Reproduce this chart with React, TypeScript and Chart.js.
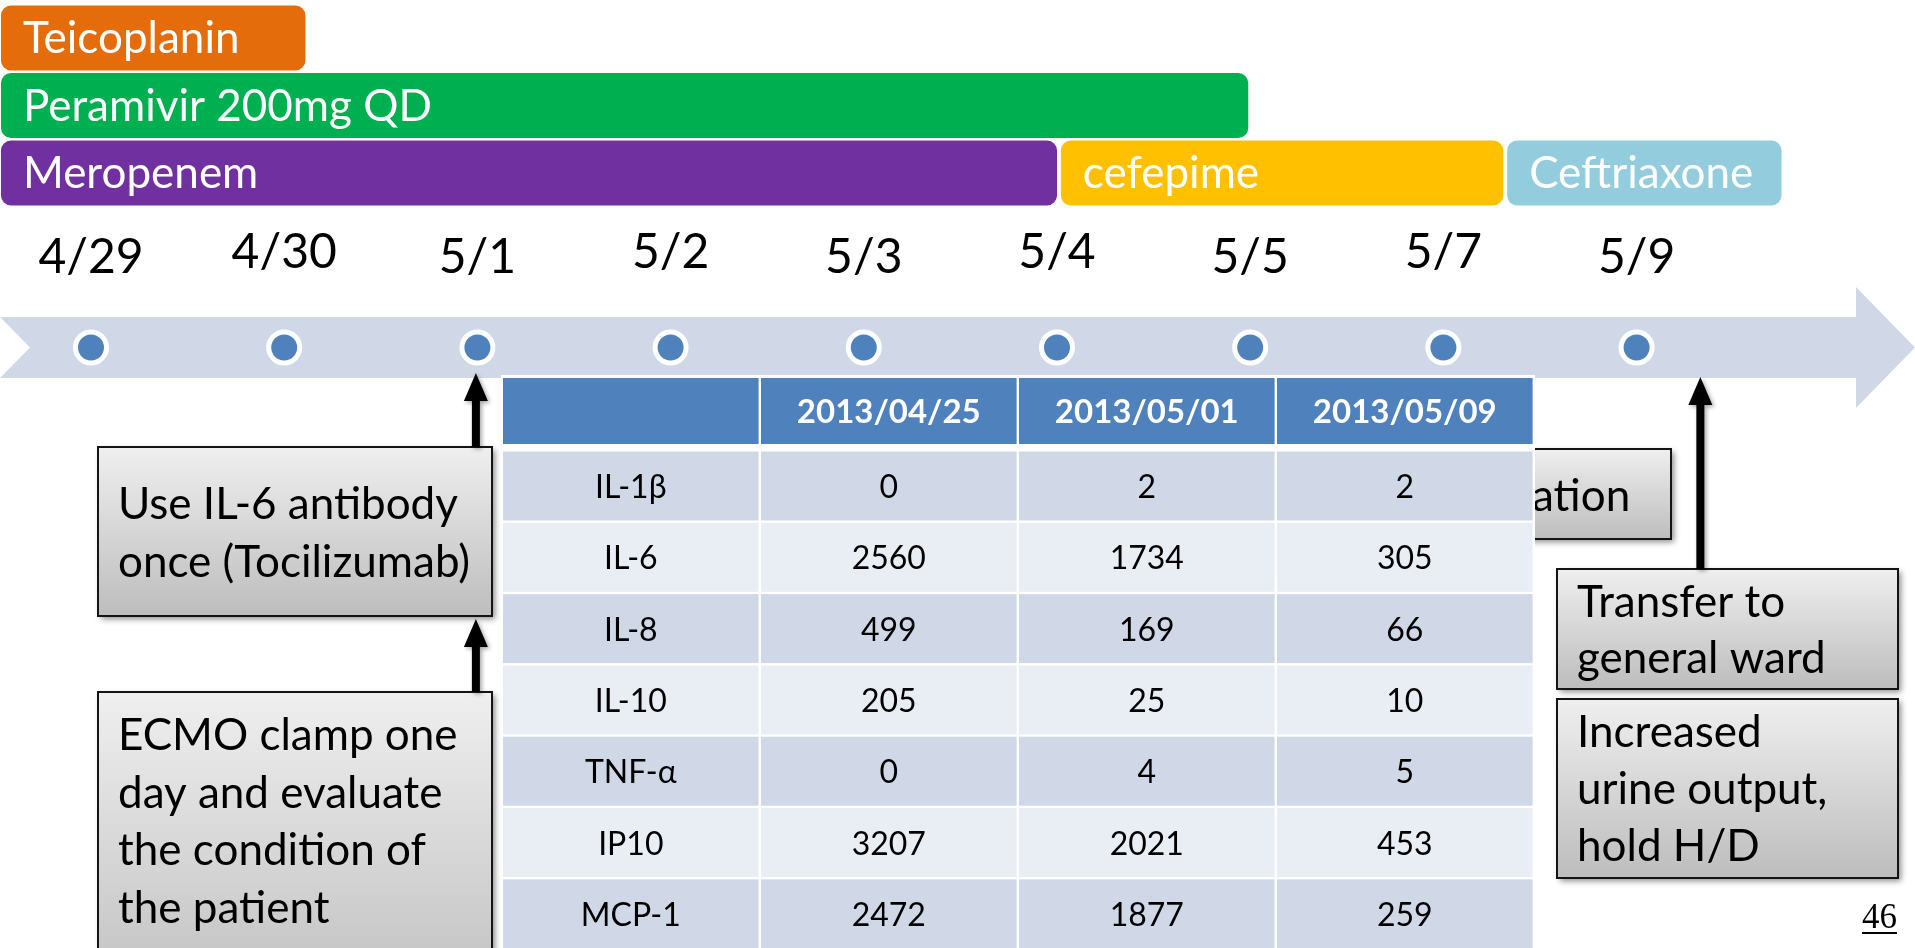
import React, { useEffect, useRef } from 'react';
import { Chart, registerables } from 'chart.js';

Chart.register(...registerables);

// ---------------- data ----------------
const dateLabels = ['4/29', '4/30', '5/1', '5/2', '5/3', '5/4', '5/5', '5/7', '5/9'];

const drugNames = ['Teicoplanin', 'Peramivir 200mg QD', 'Meropenem', 'cefepime', 'Ceftriaxone'];
const drugLanes = [0, 1, 2, 2, 2];
const drugStarts = [-0.466, -0.466, -0.466, 5.02, 7.33];
const drugEnds = [1.11, 5.99, 5.0, 7.31, 8.75];
const drugColors = ['#E46C0A', '#00B050', '#7030A0', '#FFC000', '#93CDDD'];

const cytokineNames = ['IL-1β', 'IL-6', 'IL-8', 'IL-10', 'TNF-α', 'IP10', 'MCP-1'];
const sampleDates = ['2013/04/25', '2013/05/01', '2013/05/09'];
const cytokinesApr25 = [0, 2560, 499, 205, 0, 3207, 2472];
const cytokinesMay01 = [2, 1734, 169, 25, 4, 2021, 1877];
const cytokinesMay09 = [2, 305, 66, 10, 5, 453, 259];

const noteTocilizumab = ['Use IL-6 antibody', 'once (Tocilizumab)'];
const noteEcmo = ['ECMO clamp one', 'day and evaluate', 'the condition of', 'the patient'];
const noteHidden = ['ation'];
const noteTransfer = ['Transfer to', 'general ward'];
const noteUrine = ['Increased', 'urine output,', 'hold H/D'];
const pageNumber = '46';

// ---------------- layout / style ----------------
const W = 1915;
const H = 948;
const FONT = 'Lato, "Noto Sans", "DejaVu Sans", sans-serif';
const X_MIN = -0.471;
const X_MAX = 9.441;
const LANE_PX = 67.5;
const Y_MIN = -0.563;
const Y_MAX = Y_MIN + H / LANE_PX;
const TIMELINE_LANE = 4.585;
const BAND_HALF = 30.5;

const noteBoxes = [
  { lines: noteTocilizumab, x: 98, y: 447, w: 394, h: 169, first: 72, lh: 58 },
  { lines: noteEcmo, x: 98, y: 692, w: 394, h: 330, first: 58, lh: 57.7 },
  { lines: noteHidden, x: 1300, y: 449, w: 371, h: 90, first: 62, lh: 58, tx: 1532 },
  { lines: noteTransfer, x: 1557, y: 569, w: 341, h: 120, first: 48, lh: 56 },
  { lines: noteUrine, x: 1557, y: 699, w: 341, h: 179, first: 48, lh: 57 },
];

const arrows = [
  { at: 2, dx: -1.5, tip: 373, tail: 447 },
  { at: 2, dx: -1.5, tip: 619, tail: 692 },
  { at: 8.33, dx: 0, tip: 377, tail: 569 },
];

const table = {
  x: 503,
  colW: 258,
  gap: 2.4,
  headerY: 378,
  headerH: 66,
  rowY: 451.5,
  rowPitch: 71.3,
  rowH: 69,
};

function drawNote(ctx: CanvasRenderingContext2D, b: any) {
  ctx.save();
  ctx.shadowColor = 'rgba(0,0,0,0.45)';
  ctx.shadowBlur = 6;
  ctx.shadowOffsetX = 3;
  ctx.shadowOffsetY = 3;
  const g = ctx.createLinearGradient(0, b.y, 0, b.y + b.h);
  g.addColorStop(0, '#EFEFEF');
  g.addColorStop(1, '#BDBDBD');
  ctx.fillStyle = g;
  ctx.fillRect(b.x, b.y, b.w, b.h);
  ctx.restore();
  ctx.save();
  ctx.strokeStyle = '#141414';
  ctx.lineWidth = 2;
  ctx.strokeRect(b.x, b.y, b.w, b.h);
  ctx.fillStyle = '#000';
  ctx.font = `400 44px ${FONT}`;
  ctx.textAlign = 'left';
  ctx.textBaseline = 'alphabetic';
  const tx = b.tx !== undefined ? b.tx : b.x + 20;
  b.lines.forEach((ln: string, i: number) => {
    ctx.fillText(ln, tx, b.y + b.first + i * b.lh);
  });
  ctx.restore();
}

function drawArrow(ctx: CanvasRenderingContext2D, x: number, tip: number, tail: number) {
  ctx.save();
  ctx.shadowColor = 'rgba(0,0,0,0.35)';
  ctx.shadowBlur = 4;
  ctx.shadowOffsetX = 2;
  ctx.shadowOffsetY = 2;
  ctx.fillStyle = '#000';
  const headH = 28;
  ctx.beginPath();
  ctx.moveTo(x, tip);
  ctx.lineTo(x + 12, tip + headH);
  ctx.lineTo(x + 4, tip + headH);
  ctx.lineTo(x + 4, tail);
  ctx.lineTo(x - 4, tail);
  ctx.lineTo(x - 4, tip + headH);
  ctx.lineTo(x - 12, tip + headH);
  ctx.closePath();
  ctx.fill();
  ctx.restore();
}

function drawTable(ctx: CanvasRenderingContext2D) {
  const t = table;
  const cols = [cytokineNames, cytokinesApr25, cytokinesMay01, cytokinesMay09];
  const right = t.x + 4 * t.colW;
  ctx.save();
  ctx.fillStyle = '#FFFFFF';
  ctx.fillRect(t.x - 2, t.headerY - 3, right - t.x + 2, H);
  ctx.textBaseline = 'alphabetic';
  // header
  for (let c = 0; c < 4; c++) {
    const cx = t.x + c * t.colW;
    ctx.fillStyle = '#4F81BD';
    ctx.fillRect(cx, t.headerY, t.colW - t.gap, t.headerH);
    if (c > 0) {
      ctx.fillStyle = '#FFFFFF';
      ctx.font = `700 33px ${FONT}`;
      ctx.textAlign = 'center';
      ctx.fillText(sampleDates[c - 1], cx + (t.colW - t.gap) / 2, t.headerY + t.headerH / 2 + 12);
    }
  }
  // body
  for (let r = 0; r < cytokineNames.length; r++) {
    const ry = t.rowY + r * t.rowPitch;
    for (let c = 0; c < 4; c++) {
      const cx = t.x + c * t.colW;
      ctx.fillStyle = r % 2 === 0 ? '#D0D8E8' : '#E9EDF4';
      ctx.fillRect(cx, ry, t.colW - t.gap, t.rowH);
      ctx.fillStyle = '#000000';
      ctx.font = `400 32px ${FONT}`;
      ctx.textAlign = 'center';
      ctx.fillText(String(cols[c][r]), cx + (t.colW - t.gap) / 2, ry + t.rowH / 2 + 12);
    }
  }
  ctx.restore();
}

const slidePlugin = {
  id: 'slide',
  beforeDatasetsDraw(chart: any) {
    const ctx: CanvasRenderingContext2D = chart.ctx;
    const xs = chart.scales.x;
    const ys = chart.scales.y;
    const cy = ys.getPixelForValue(TIMELINE_LANE);
    const top = cy - BAND_HALF;
    const bot = cy + BAND_HALF;
    const right = chart.width;
    const headStart = right - 59;
    ctx.save();
    ctx.fillStyle = '#D0D8E8';
    ctx.beginPath();
    ctx.moveTo(0, top);
    ctx.lineTo(headStart, top);
    ctx.lineTo(headStart, cy - 60.5);
    ctx.lineTo(right, cy);
    ctx.lineTo(headStart, cy + 60.5);
    ctx.lineTo(headStart, bot);
    ctx.lineTo(0, bot);
    ctx.lineTo(30, cy);
    ctx.closePath();
    ctx.fill();
    // date labels
    ctx.fillStyle = '#000';
    ctx.font = `400 48px ${FONT}`;
    ctx.textAlign = 'center';
    ctx.textBaseline = 'alphabetic';
    dateLabels.forEach((d, i) => {
      const x = xs.getPixelForValue(i);
      const base = i % 2 === 0 ? cy - 74.5 : cy - 79.5;
      ctx.fillText(d, x, base);
    });
    ctx.restore();
  },
  afterDatasetsDraw(chart: any) {
    const ctx: CanvasRenderingContext2D = chart.ctx;
    const xs = chart.scales.x;
    // bar labels
    const meta = chart.getDatasetMeta(0);
    ctx.save();
    ctx.fillStyle = '#FFFFFF';
    ctx.font = `400 44px ${FONT}`;
    ctx.textAlign = 'left';
    ctx.textBaseline = 'alphabetic';
    meta.data.forEach((el: any, i: number) => {
      const left = Math.max(0, Math.min(el.x, el.base));
      ctx.fillText(drugNames[i], left + 22, el.y + 15);
    });
    ctx.restore();

    // note partly hidden under the table
    drawNote(ctx, noteBoxes[2]);
    drawTable(ctx);
    drawNote(ctx, noteBoxes[0]);
    drawNote(ctx, noteBoxes[1]);
    drawNote(ctx, noteBoxes[3]);
    drawNote(ctx, noteBoxes[4]);
    arrows.forEach((a) => drawArrow(ctx, xs.getPixelForValue(a.at) + a.dx, a.tip, a.tail));

    // page number
    ctx.save();
    ctx.fillStyle = '#000';
    ctx.font = `400 35px "Liberation Serif", "DejaVu Serif", serif`;
    ctx.textAlign = 'left';
    ctx.textBaseline = 'alphabetic';
    ctx.fillText(pageNumber, 1862, 928);
    const w = ctx.measureText(pageNumber).width;
    ctx.fillRect(1862, 932, w, 2);
    ctx.restore();
  },
};

const axisCommon = {
  type: 'linear',
  display: false,
  offset: false,
  beginAtZero: false,
  grace: 0,
  bounds: 'data',
  grid: { offset: false, display: false },
  ticks: { display: false },
};

export default function App() {
  const ref = useRef<HTMLCanvasElement>(null);
  useEffect(() => {
    document.body.style.margin = '0';
    const chart = new Chart(ref.current as HTMLCanvasElement, {
      type: 'bar',
      data: {
        datasets: [
          {
            type: 'bar',
            indexAxis: 'y',
            data: drugNames.map((_, i) => ({ x: [drugStarts[i], drugEnds[i]], y: drugLanes[i] })),
            backgroundColor: drugColors,
            barThickness: 65,
            borderRadius: 10,
            borderSkipped: false,
            inflateAmount: 0,
          } as any,
          {
            type: 'scatter',
            data: dateLabels.map((_, i) => ({ x: i, y: TIMELINE_LANE })),
            pointRadius: 15.5,
            pointHoverRadius: 15.5,
            pointBorderWidth: 5,
            pointBackgroundColor: '#4F81BD',
            pointBorderColor: '#FFFFFF',
            showLine: false,
          } as any,
        ],
      },
      options: {
        animation: false,
        responsive: false,
        events: [],
        layout: { padding: 0, autoPadding: false },
        plugins: { legend: { display: false }, tooltip: { enabled: false } },
        scales: {
          x: { ...axisCommon, min: X_MIN, max: X_MAX },
          y: { ...axisCommon, min: Y_MIN, max: Y_MAX, reverse: true },
        },
      } as any,
      plugins: [slidePlugin],
    });
    return () => chart.destroy();
  }, []);
  return (
    <div style={{ position: 'absolute', left: 0, top: 0, width: W, height: H, background: '#fff', overflow: 'hidden' }}>
      <canvas ref={ref} width={W} height={H} style={{ display: 'block' }} />
    </div>
  );
}
